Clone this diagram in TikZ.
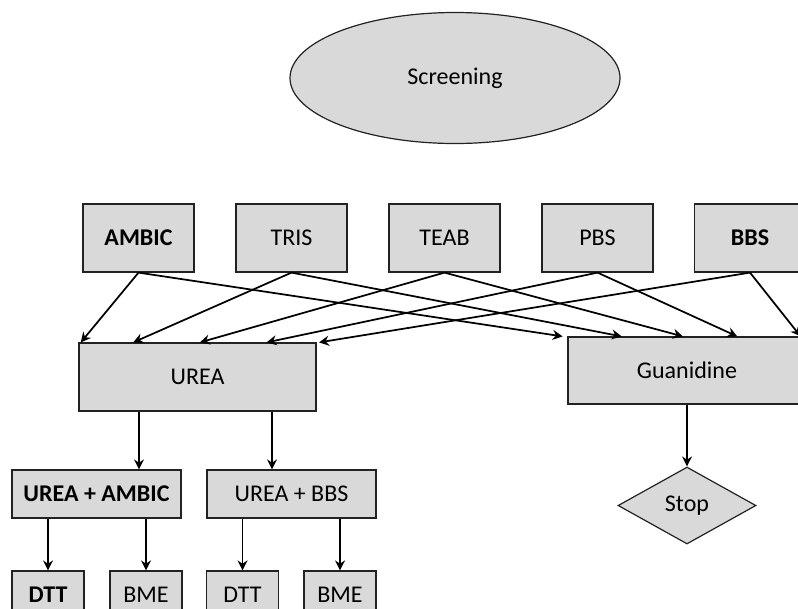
\documentclass[tikz,border=0pt]{standalone}
\usepackage{fontspec}
\setmainfont{Carlito}
\usetikzlibrary{shapes.geometric,arrows.meta,calc}
\definecolor{boxfill}{HTML}{D9D9D9}
\definecolor{boxline}{HTML}{222222}
\begin{document}
\begin{tikzpicture}[x=0.75pt,y=-0.75pt,
  every node/.style={font=\fontsize{18}{21}\selectfont},
  box/.style={draw=boxline,fill=boxfill,line width=0.9pt,rectangle,inner sep=0pt},
  topbox/.style={box,minimum width=111*0.75pt,minimum height=68*0.75pt},
  bigbox/.style={box,minimum width=237*0.75pt,minimum height=68*0.75pt},
  midbox/.style={box,minimum width=169*0.75pt,minimum height=48*0.75pt},
  smallbox/.style={box,minimum width=72*0.75pt,minimum height=48*0.75pt},
  arr/.style={line width=1.3pt,-{Stealth[length=7.5pt,width=7.5pt,inset=2.5pt]}}]
\useasboundingbox (0,0) rectangle (798,608);
\clip (0,0) rectangle (798,608);
\node[ellipse,draw=boxline,fill=boxfill,line width=0.9pt,minimum width=330*0.75pt,minimum height=131*0.75pt,inner sep=0pt] (scr) at (455,78) {Screening};
\node[topbox] (ambic) at (138.5,238) {\textbf{AMBIC}};
\node[topbox] (tris) at (291.5,238) {TRIS};
\node[topbox] (teab) at (444.5,238) {TEAB};
\node[topbox] (pbs) at (597.5,238) {PBS};
\node[topbox] (bbs) at (750,238) {\textbf{BBS}};
\node[bigbox] (urea) at (197.5,377) {UREA};
\node[box,minimum width=238*0.75pt,minimum height=67*0.75pt] (guan) at (687,370.5) {Guanidine};
\node[midbox] (ua) at (96.5,494) {\textbf{UREA + AMBIC}};
\node[midbox] (ub) at (291.5,494) {UREA + BBS};
\node[smallbox] (dtta) at (48,595) {\textbf{DTT}};
\node[smallbox] (bmea) at (146,595) {BME};
\node[smallbox] (dttb) at (242.5,595) {DTT};
\node[smallbox] (bmeb) at (340,595) {BME};
\node[diamond,draw=boxline,fill=boxfill,line width=0.9pt,minimum width=138*0.75pt,minimum height=77*0.75pt,inner sep=0pt,aspect=1.8] (stop) at (687,505.5) {Stop};
% top boxes to UREA
\draw[arr] (ambic.south) -- ($(urea.north west)!0.01!(urea.north east)$);
\draw[arr] (tris.south) -- ($(urea.north west)!0.23!(urea.north east)$);
\draw[arr] (teab.south) -- ($(urea.north west)!0.51!(urea.north east)$);
\draw[arr] (pbs.south) -- ($(urea.north west)!0.79!(urea.north east)$);
\draw[arr] (bbs.south) -- ($(urea.north west)!1.01!(urea.north east)$);
% top boxes to Guanidine
\draw[arr] (ambic.south) -- ($(guan.north west)!-0.02!(guan.north east)$);
\draw[arr] (tris.south) -- ($(guan.north west)!0.227!(guan.north east)$);
\draw[arr] (teab.south) -- ($(guan.north west)!0.483!(guan.north east)$);
\draw[arr] (pbs.south) -- ($(guan.north west)!0.71!(guan.north east)$);
\draw[arr] (bbs.south) -- ($(guan.north west)!0.975!(guan.north east)$);
% UREA branches
\draw[arr] (139,0 |- urea.south) -- (139,0 |- ua.north);
\draw[arr] (272,0 |- urea.south) -- (272,0 |- ub.north);
\draw[arr] (dtta.north |- ua.south) -- (dtta.north);
\draw[arr] (bmea.north |- ua.south) -- (bmea.north);
\draw[arr] (dttb.north |- ub.south) -- (dttb.north);
\draw[arr] (bmeb.north |- ub.south) -- (bmeb.north);
\draw[arr] (guan.south) -- (stop.north);
\end{tikzpicture}
\end{document}
